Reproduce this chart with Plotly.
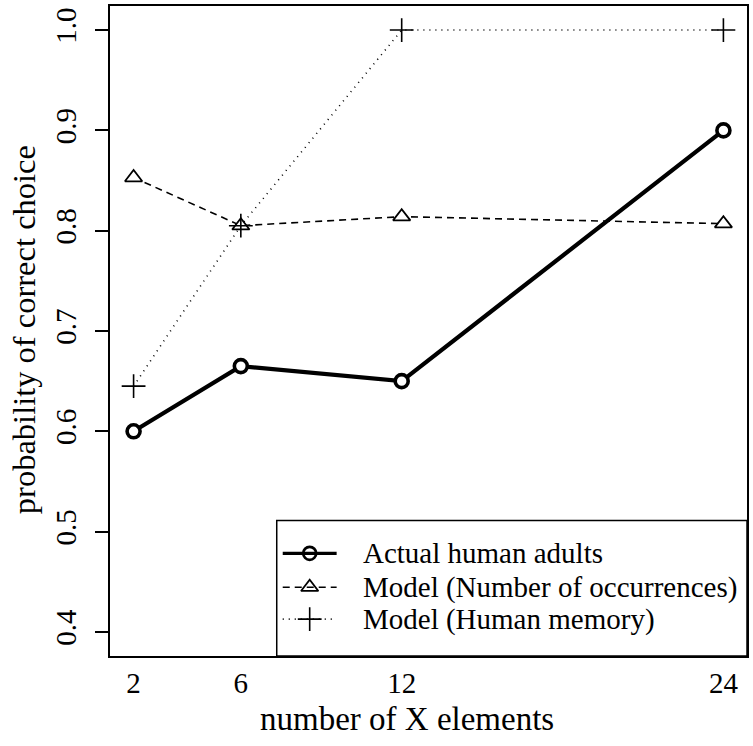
import plotly.graph_objects as go

# ---- data ----
x_elements = [2, 6, 12, 24]
actual_adults = [0.600, 0.665, 0.650, 0.900]
model_occurrences = [0.853, 0.805, 0.814, 0.807]
model_memory = [0.645, 0.805, 1.000, 1.000]

y_ticks = [0.4, 0.5, 0.6, 0.7, 0.8, 0.9, 1.0]
y_tick_labels = ["0.4", "0.5", "0.6", "0.7", "0.8", "0.9", "1.0"]
x_tick_labels = ["2", "6", "12", "24"]

legend_labels = ["Actual human adults",
                 "Model (Number of occurrences)",
                 "Model (Human memory)"]

FONT = "Liberation Serif, Times New Roman, serif"
W, H = 753, 746
L, R, T, B = 110, 5, 4, 90
PW, PH = W - L - R, H - T - B

fig = go.Figure()

series = [
    dict(y=actual_adults, dash="solid", width=4.2, symbol="circle",
         size=13, lw=3.6),
    dict(y=model_occurrences, dash="7px,5px", width=1.6, symbol="triangle-up",
         size=15, lw=1.8),
    dict(y=model_memory, dash="1px,5px", width=1.6, symbol="cross-thin",
         size=17, lw=1.6),
]

for s in series:
    fig.add_trace(go.Scatter(
        x=x_elements, y=s["y"], mode="lines+markers",
        line=dict(color="black", width=s["width"], dash=s["dash"]),
        marker=dict(symbol=s["symbol"], size=s["size"], color="white",
                    line=dict(color="black", width=s["lw"])),
        showlegend=False, cliponaxis=False,
    ))

# ---- custom legend (paper coords via overlay axis) ----
def px_x(p):
    return (p - L) / PW

def px_y(p):
    return (H - B - p) / PH

leg_rows = [553, 587, 619]
for i, s in enumerate(series):
    yy = px_y(leg_rows[i])
    fig.add_shape(type="line", xref="paper", yref="paper",
                  x0=px_x(283), x1=px_x(337), y0=yy, y1=yy,
                  line=dict(color="black", width=s["width"] * 0.8 if i == 0 else s["width"],
                            dash=s["dash"]))
    fig.add_trace(go.Scatter(
        x=[px_x(310)], y=[yy], xaxis="x2", yaxis="y2", mode="markers",
        marker=dict(symbol=s["symbol"], size=s["size"], color="white",
                    line=dict(color="black", width=s["lw"] * (0.75 if i == 0 else 1))),
        showlegend=False, hoverinfo="skip", cliponaxis=False,
    ))
    fig.add_annotation(x=px_x(361), y=yy, xref="paper", yref="paper",
                       text=legend_labels[i], showarrow=False,
                       xanchor="left", yanchor="middle",
                       font=dict(family=FONT, size=29, color="black"))

fig.add_shape(type="rect", xref="paper", yref="paper",
              x0=px_x(277), x1=1, y0=0, y1=px_y(520),
              line=dict(color="black", width=1.5), fillcolor="white",
              layer="below")

# axis titles
fig.add_annotation(x=px_x(407), y=px_y(719), xref="paper", yref="paper",
                   text="number of X elements", showarrow=False,
                   xanchor="center", yanchor="middle",
                   font=dict(family=FONT, size=33, color="black"))
fig.add_annotation(x=px_x(24), y=px_y(329), xref="paper", yref="paper",
                   text="probability of correct choice", showarrow=False,
                   textangle=-90, xanchor="center", yanchor="middle",
                   font=dict(family=FONT, size=32.5, color="black"))

fig.update_layout(
    width=W, height=H,
    margin=dict(l=L, r=R, t=T, b=B),
    paper_bgcolor="white", plot_bgcolor="white",
    font=dict(family=FONT, color="black"),
    xaxis=dict(
        range=[1.12, 24.88], tickvals=x_elements, ticktext=x_tick_labels,
        showgrid=False, zeroline=False, ticks="",
        showline=True, mirror=True, linecolor="black", linewidth=1.5,
        tickfont=dict(family=FONT, size=29, color="black"),
        ticklabelstandoff=0,
    ),
    yaxis=dict(
        range=[0.376, 1.024], tickvals=y_ticks, ticktext=y_tick_labels,
        showgrid=False, zeroline=False, ticks="outside", ticklen=13,
        tickwidth=1.5, tickcolor="black", tickangle=-90,
        showline=True, mirror=True, linecolor="black", linewidth=1.5,
        tickfont=dict(family=FONT, size=29, color="black"),
        ticklabelstandoff=8,
    ),
    xaxis2=dict(range=[0, 1], overlaying="x", visible=False, domain=[0, 1]),
    yaxis2=dict(range=[0, 1], overlaying="y", visible=False, domain=[0, 1]),
)

fig.write_html("out.html",
               config={"displayModeBar": False},
               post_script="document.body.style.margin='0';"
                           "document.body.style.overflow='hidden';")
